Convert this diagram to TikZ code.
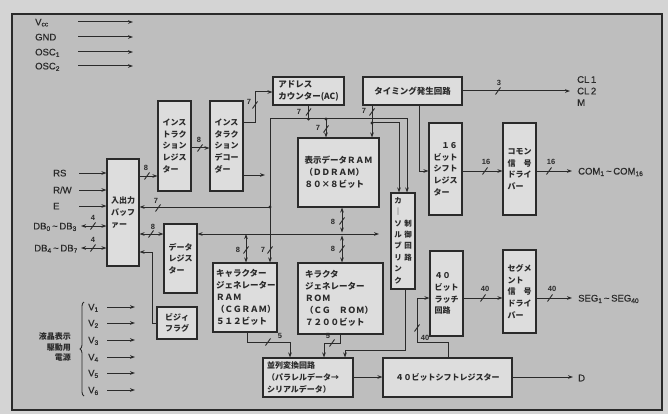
\documentclass[tikz,border=0pt]{standalone}
\usepackage{fontspec}
\setmainfont{Liberation Sans}[UprightFeatures={FakeBold=0.5}]
\newfontfamily\jp{Noto Sans CJK JP}
\usetikzlibrary{arrows.meta,decorations.pathreplacing,calc}
\definecolor{bgout}{HTML}{D4D4D4}
\definecolor{bgin}{HTML}{BEBEBE}
\definecolor{boxfill}{HTML}{DDDDDD}
\definecolor{ink}{HTML}{2A2A2A}
\newcommand\busmark[5]{\draw[ink,line width=0.9pt] (#1-2.5,#2+3.5) -- (#1+2.5,#2-3.5); \node[num] at (#3,#4) {#5};}
\begin{document}
\begin{tikzpicture}[x=1pt,y=-1pt,
  box/.style={draw=ink, fill=boxfill, line width=1.1pt, inner sep=0pt, align=left, font=\jp\bfseries\fontsize{8}{11.7}\selectfont, text=ink},
  wbox/.style={box, font=\jp\bfseries\fontsize{8.5}{12}\selectfont},
  wire/.style={draw=ink, line width=1pt},
  arr/.style={wire, -{Stealth[length=5pt,width=3.6pt]}},
  darr/.style={wire, {Stealth[length=5pt,width=3.6pt]}-{Stealth[length=5pt,width=3.6pt]}},
  lbl/.style={font=\fontsize{9.5}{11.5}\selectfont, inner sep=0pt, text=ink},
  num/.style={font=\bfseries\fontsize{7.5}{8}\selectfont, inner sep=0pt, text=ink},
  jdot/.style={circle, fill=ink, inner sep=0pt, minimum size=3.2pt},
]
\fill[bgout] (0,0) rectangle (668,414);
\draw[ink, line width=1.6pt, fill=bgin] (12,14) rectangle (662,410);
\useasboundingbox (0,0) rectangle (668,414);

% ---------- boxes ----------
\node[box, minimum width=33pt, minimum height=90pt] (ir) at (174.5,146) {インス\\トラク\\ション\\レジス\\ター};
\node[box, minimum width=33pt, minimum height=90pt] (id) at (226.5,146) {インス\\タラク\\ション\\デコー\\ダー};
\node[wbox, minimum width=71pt, minimum height=28pt] (ac) at (308.5,91) {アドレス\\カウンター(AC)};
\node[wbox, minimum width=99pt, minimum height=28pt] (tg) at (412.5,91) {タイミング発生回路};
\node[box, minimum width=32pt, minimum height=107pt] (buf) at (123,212.5) {入出力\\バッフ\\ァー};
\node[wbox, minimum width=81pt, minimum height=69pt] (ddram) at (338.5,172.5) {表示データＲＡＭ\\（ＤＤＲＡＭ）\\８０×８ビット};
\node[box, minimum width=33pt, minimum height=92pt] (sr16) at (445.5,169) {　１６\\ビット\\シフト\\レジス\\ター};
\node[box, minimum width=33pt, minimum height=92pt] (cd) at (519.5,169) {コモン\\信　号\\ドライ\\バー};
\node[box, minimum width=24pt, minimum height=96pt, font=\jp\bfseries\fontsize{7.5}{11.4}\selectfont] (cur) at (403,241)
  {\begin{tabular}{@{}c@{}}カ\\｜\\ソ\\ル\\ブ\\リ\\ン\\ク\end{tabular}\hspace{2.5pt}\begin{tabular}{@{}c@{}}制\\御\\回\\路\end{tabular}};
\node[box, minimum width=33pt, minimum height=69pt] (dr) at (180.5,258.5) {データ\\レジス\\ター};
\node[wbox, text width=58pt, inner xsep=3pt, minimum height=69pt] (cgram) at (245,297.5) {キャラクター\\ジェネレーター\\ＲＡＭ\\（ＣＧＲＡＭ）\\５１２ビット};
\node[wbox, text width=71pt, inner xsep=7pt, minimum height=71pt] (cgrom) at (340.5,298.5) {キラクタ\\ジェネレーター\\ＲＯＭ\\（ＣＧ　ＲＯＭ）\\７２００ビット};
\node[box, minimum width=33pt, minimum height=85pt] (latch) at (446.5,293.5) {４０\\ビット\\ラッチ\\回路};
\node[box, minimum width=33pt, minimum height=83pt] (sd) at (519.5,291.5) {セグメ\\ント\\信　号\\ドライ\\バー};
\node[box, minimum width=40pt, minimum height=32pt] (bf) at (177,323) {ビジィ\\フラグ};
\node[box, text width=82pt, inner xsep=4pt, minimum height=39pt] (ps) at (308,377.5) {並列変換回路\\（パラレルデータ→\\シリアルデータ）};
\node[box, minimum width=129pt, minimum height=39pt] (sr40) at (447.5,377.5) {４０ビットシフトレジスター};

% ---------- power / clock inputs ----------
\node[lbl, anchor=base west] (vcc) at (35,25.4) {V\textsubscript{cc}};
\node[lbl, anchor=base west] (gnd) at (35,40.4) {GND};
\node[lbl, anchor=base west] (osc1) at (35,55.4) {OSC\textsubscript{1}};
\node[lbl, anchor=base west] (osc2) at (35,69.4) {OSC\textsubscript{2}};
\foreach \n/\y in {vcc/22,gnd/37,osc1/52,osc2/66}{
  \coordinate (\n A) at (78,\y); \coordinate (\n B) at (133,\y);
  \draw[arr] (\n A) -- (\n B);
}

% ---------- interface inputs ----------
\node[lbl, anchor=base west] (rs) at (53,176.4) {RS};
\node[lbl, anchor=base west] (rw) at (53,193.4) {R/W};
\node[lbl, anchor=base west] (en) at (53,209.4) {E};
\node[lbl, anchor=base east] (db0) at (77,229.4) {DB\textsubscript{0}\,\textasciitilde\,DB\textsubscript{3}};
\node[lbl, anchor=base east] (db4) at (78,251.4) {DB\textsubscript{4}\,\textasciitilde\,DB\textsubscript{7}};
\foreach \n/\y in {rs/173,rw/190,en/206}{
  \coordinate (\n A) at (79,\y);
  \draw[arr] (\n A) -- (\n A -| buf.west);
}
\coordinate (db0A) at (81,226); \coordinate (db4A) at (81,248);
\draw[darr] (db0A) -- (db0A -| buf.west);
\draw[darr] (db4A) -- (db4A -| buf.west);
\busmark{93}{226}{93}{218}{4}
\busmark{93}{248}{93}{240}{4}

% ---------- buffer / instruction path ----------
\coordinate (h176) at (0,176);
\draw[arr] (buf.east |- h176) -- (ir.west |- h176);
\busmark{147}{176}{146}{168}{8}
\coordinate (h148) at (0,148);
\draw[arr] (ir.east |- h148) -- (id.west |- h148);
\busmark{200}{148}{199}{140}{8}
\coordinate (h123) at (0,123); \coordinate (v255) at (255,92);
\draw[arr] (id.east |- h123) -| (v255) -- (v255 -| ac.west);
\busmark{255}{105}{249}{102}{7}
\coordinate (idx) at (265,175);
\draw[arr] (id.east |- idx) -- (idx);

% ---------- address bus ----------
\coordinate (j1) at (308.5,119); \coordinate (busL) at (270,119); \coordinate (busR) at (407,119);
\coordinate (j3) at (326,119); \coordinate (j2) at (270,207);
\draw[wire] (ac.south) -- (j1);
\draw[arr] (busL) -- (busR) -- (busR |- cur.north);
\draw[arr] (busL) -- (busL |- cgram.north);
\draw[arr] (j2) -- (j2 -| buf.east);
\draw[arr] (j3) -- (j3 |- ddram.north);
\node[jdot] at (j1) {}; \node[jdot] at (j3) {}; \node[jdot] at (j2) {};
\busmark{308.5}{112}{299}{112}{7}
\busmark{326}{129}{318}{128}{7}
\busmark{270}{250}{263}{250}{7}
\busmark{158}{208}{156}{201}{7}

% ---------- timing ----------
\coordinate (t1) at (372,105); \coordinate (j4) at (372,123); \coordinate (t2) at (399,123);
\draw[arr] (t1) -- (t1 |- ddram.north);
\draw[arr] (j4) -- (t2) -- (t2 |- cur.north);
\node[jdot] at (j4) {};
\busmark{372}{112}{364}{111}{7}
\coordinate (t3) at (419,105); \coordinate (h171) at (0,171);
\draw[arr] (t3) |- (sr16.west |- h171);
\coordinate (clEnd) at (570,91);
\draw[arr] (tg.east) -- (clEnd);
\busmark{498}{91}{499}{83}{3}
\node[lbl, anchor=west, align=left] (cl) at (577,91) {CL\,1\\CL\,2\\M};

% ---------- common side ----------
\draw[arr] (sr16.east |- h171) -- (cd.west |- h171);
\busmark{485}{171}{486}{162}{16}
\coordinate (comEnd) at (572,171);
\draw[arr] (cd.east |- h171) -- (comEnd);
\busmark{549}{171}{551}{162}{16}
\node[lbl, anchor=west] (com) at (578,172) {COM\textsubscript{1}\,\textasciitilde\,COM\textsubscript{16}};

% ---------- data bus ----------
\coordinate (h234) at (0,234);
\draw[darr] (buf.east |- h234) -- (dr.west |- h234);
\busmark{151}{234}{153}{227}{8}
\coordinate (busE) at (379,234);
\draw[darr] (dr.east |- h234) -- (busE);
\coordinate (v246) at (246,234);
\draw[darr] (v246) -- (v246 |- cgram.north);
\busmark{246}{250}{238}{250}{8}
\coordinate (v342) at (342,234);
\draw[darr, shorten >=1.5pt] (v342 |- ddram.south) -- (v342);
\draw[darr, shorten <=1.5pt] (v342) -- (v342 |- cgrom.north);
\busmark{342}{221}{333}{222}{8}
\busmark{342}{249}{333}{249}{8}

% ---------- busy flag ----------
\coordinate (v152) at (152,252);
\draw[arr] (bf.west) -| (v152) -- (v152 -| buf.east);

% ---------- segment side ----------
\coordinate (k1) at (448,342); \coordinate (k2) at (417,342); \coordinate (h298) at (0,298);
\draw[arr] (sr40.north -| k1) -- (k1) -- (k2) |- (latch.west |- h298);
\busmark{417}{328}{425}{338}{40}
\draw[arr] (latch.east |- h298) -- (sd.west |- h298);
\busmark{483}{298}{485}{289}{40}
\coordinate (segEnd) at (572,298);
\draw[arr] (sd.east |- h298) -- (segEnd);
\busmark{550}{298}{552}{289}{40}
\node[lbl, anchor=west] (seg) at (578,299) {SEG\textsubscript{1}\,\textasciitilde\,SEG\textsubscript{40}};

% ---------- to parallel/serial ----------
\coordinate (c1) at (247,342); \coordinate (c2) at (290,342);
\draw[arr] (cgram.south -| c1) -- (c1) -- (c2) -- (c2 |- ps.north);
\busmark{268}{342}{280}{336}{5}
\coordinate (d1) at (340,343); \coordinate (d2) at (324,343);
\draw[arr] (cgrom.south -| d1) -- (d1) -- (d2) -- (d2 |- ps.north);
\busmark{332}{343}{328}{336}{5}
\coordinate (e1) at (405,350); \coordinate (e2) at (345,350);
\draw[arr] (cur.south -| e1) -- (e1) -- (e2) -- (e2 |- ps.north);
\coordinate (h377) at (0,377);
\draw[arr] (ps.east |- h377) -- (sr40.west |- h377);
\coordinate (dEnd) at (573,377);
\draw[arr] (sr40.east |- h377) -- (dEnd);
\node[lbl, anchor=west] (dout) at (578,378) {D};

% ---------- LCD supply ----------
\foreach \i/\y in {1/307,2/323,3/340,4/357,5/373,6/390}{
  \node[lbl, anchor=base west] (v\i) at (88,\y+3.4) {V\textsubscript{\i}};
  \coordinate (v\i A) at (107,\y); \coordinate (v\i B) at (135,\y);
  \draw[arr] (v\i A) -- (v\i B);
}
\draw[ink, line width=0.9pt, decorate, decoration={brace, amplitude=4pt}] (84,396) -- (84,302);
\node[font=\jp\bfseries\fontsize{8}{10.5}\selectfont, align=right, anchor=east, inner sep=0pt, text=ink] (lcd) at (71,347) {液晶表示\\駆動用\\電源};
\end{tikzpicture}
\end{document}
